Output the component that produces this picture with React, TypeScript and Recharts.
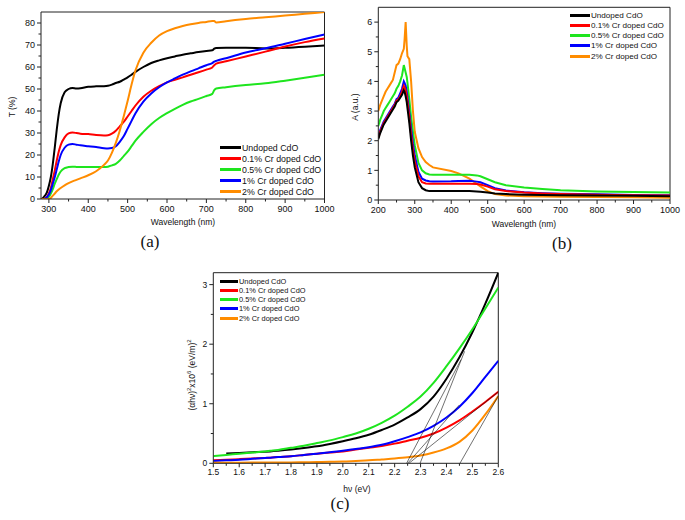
import React from 'react';
import { LineChart, Line, XAxis, YAxis, ReferenceLine, Legend } from 'recharts';

// ---------- series meta ----------
const SERIES_NAMES = ['Undoped CdO', '0.1% Cr doped CdO', '0.5% Cr doped CdO', '1% Cr doped CdO', '2% Cr doped CdO'];
const SERIES_KEYS = ['undoped', 'cr01', 'cr05', 'cr1', 'cr2'];
const SERIES_COLORS = ['#000000', '#ff0000', '#1ee51e', '#0000ff', '#ff8c00'];

// ---------- (a) transmittance ----------
const WL_A = [280, 285, 290, 295, 300, 305, 310, 315, 320, 325, 330, 340, 350, 360, 370, 380, 400, 420, 440, 450, 460, 470, 480, 490, 500, 510, 520, 540, 560, 580, 600, 620, 640, 660, 680, 700, 715, 720, 725, 750, 800, 850, 900, 950, 1000];
const T_UNDOPED = [0, 0.5, 1.5, 3, 6, 10, 16, 23.5, 31.5, 38.5, 43.5, 48.5, 50, 50.5, 50.2, 50.3, 51, 51.2, 51.3, 51.5, 52, 52.7, 53.3, 54.3, 55.3, 56.5, 57.8, 60, 61.8, 63, 64, 64.8, 65.6, 66.2, 66.8, 67.3, 67.6, 68.3, 68.6, 68.8, 68.8, 68.4, 68.7, 69.2, 69.8];
const T_CR01 = [0, 0, 0.3, 1, 2.5, 5, 9, 13, 17.5, 21.5, 24.5, 28, 29.8, 30.2, 30, 29.7, 29.5, 29.1, 28.9, 29, 29.7, 31, 33, 35, 37.5, 40, 42.5, 46.5, 49.2, 51.3, 53, 54.2, 55.3, 56.5, 57.6, 58.8, 59.8, 60.8, 61.5, 62.6, 64.8, 67, 69.3, 71.3, 73];
const T_CR05 = [0, 0, 0, 0.3, 1, 2.5, 4.5, 7, 9, 11, 12.5, 14, 14.5, 14.7, 14.6, 14.5, 14.5, 14.5, 14.5, 14.7, 15.3, 16, 17.5, 19.5, 21.5, 24, 26.5, 30.5, 34, 36.8, 39, 41, 42.8, 44.3, 45.5, 46.8, 47.8, 49.5, 50.2, 50.8, 51.8, 52.6, 53.8, 55.1, 56.5];
const T_CR1 = [0, 0, 0.2, 0.8, 2, 4, 7, 10, 13.5, 17, 20, 23.3, 24.7, 25, 24.7, 24.4, 24, 23.6, 23.1, 23, 23.2, 24, 26, 28.5, 32, 35.5, 39, 44.3, 48, 50.8, 53, 54.8, 56.5, 58, 59.4, 60.8, 61.8, 62.4, 62.8, 64, 66.6, 68.5, 70.6, 72.7, 74.8];
const T_CR2 = [0, 0, 0, 0, 0, 0.5, 1.5, 2.5, 3.5, 4.3, 5, 6.2, 7.2, 8, 8.7, 9.4, 10.8, 12.6, 15.5, 17.5, 21, 25.5, 31, 37.5, 44.5, 52, 58.5, 66.5, 71, 74.3, 76.3, 77.6, 78.6, 79.4, 80, 80.5, 80.9, 80.9, 80.2, 80.8, 81.8, 82.6, 83.4, 84.2, 85];
const A_X_TICKS = [300, 350, 400, 450, 500, 550, 600, 650, 700, 750, 800, 850, 900, 950, 1000];
const A_X_MAJOR = [300, 400, 500, 600, 700, 800, 900, 1000];
const A_Y_TICKS = [0, 5, 10, 15, 20, 25, 30, 35, 40, 45, 50, 55, 60, 65, 70, 75, 80];
const A_Y_MAJOR = [0, 10, 20, 30, 40, 50, 60, 70, 80];

// ---------- (b) absorbance ----------
const WL_B = [200, 205, 210, 215, 220, 225, 230, 235, 240, 245, 250, 255, 260, 265, 270, 272, 275, 278, 280, 285, 290, 295, 300, 310, 320, 330, 340, 350, 400, 420, 450, 470, 480, 500, 520, 550, 600, 650, 700, 800, 900, 1000];
const A_UNDOPED = [2.05, 2.25, 2.4, 2.55, 2.65, 2.75, 2.85, 2.95, 3.05, 3.15, 3.3, 3.35, 3.45, 3.55, 3.7, 3.65, 3.5, 3.3, 3.1, 2.6, 2.0, 1.5, 1.1, 0.6, 0.4, 0.33, 0.3, 0.3, 0.3, 0.3, 0.3, 0.29, 0.28, 0.25, 0.22, 0.2, 0.18, 0.17, 0.16, 0.15, 0.14, 0.13];
const A_CR01 = [2.1, 2.3, 2.45, 2.6, 2.7, 2.8, 2.9, 3.0, 3.1, 3.2, 3.35, 3.4, 3.5, 3.65, 3.85, 3.8, 3.7, 3.5, 3.3, 2.8, 2.2, 1.7, 1.3, 0.8, 0.6, 0.56, 0.55, 0.55, 0.55, 0.55, 0.55, 0.54, 0.52, 0.45, 0.36, 0.3, 0.25, 0.22, 0.2, 0.18, 0.16, 0.15];
const A_CR05 = [2.5, 2.7, 2.85, 3.0, 3.1, 3.2, 3.3, 3.4, 3.5, 3.6, 3.75, 3.85, 4.0, 4.2, 4.55, 4.45, 4.3, 4.15, 3.95, 3.4, 2.8, 2.3, 1.85, 1.25, 1.0, 0.9, 0.86, 0.85, 0.85, 0.85, 0.85, 0.83, 0.8, 0.7, 0.6, 0.5, 0.42, 0.37, 0.33, 0.29, 0.27, 0.25];
const A_CR1 = [2.15, 2.35, 2.5, 2.65, 2.75, 2.85, 2.95, 3.05, 3.15, 3.25, 3.4, 3.45, 3.6, 3.75, 4.0, 3.95, 3.85, 3.65, 3.45, 2.95, 2.4, 1.9, 1.5, 0.95, 0.72, 0.66, 0.63, 0.62, 0.63, 0.64, 0.65, 0.62, 0.6, 0.5, 0.4, 0.32, 0.26, 0.23, 0.21, 0.19, 0.17, 0.16];
const A_CR2 = [3.0, 3.2, 3.35, 3.5, 3.65, 3.75, 3.85, 3.95, 4.05, 4.3, 4.55, 4.6, 4.75, 4.95, 5.1, 5.4, 6.0, 5.2, 4.85, 4.75, 4.0, 3.0, 2.3, 1.75, 1.45, 1.28, 1.18, 1.1, 0.98, 0.9, 0.72, 0.55, 0.46, 0.3, 0.2, 0.15, 0.13, 0.12, 0.11, 0.1, 0.09, 0.08];
const B_X_TICKS = [200, 250, 300, 350, 400, 450, 500, 550, 600, 650, 700, 750, 800, 850, 900, 950, 1000];
const B_X_MAJOR = [200, 300, 400, 500, 600, 700, 800, 900, 1000];
const B_Y_TICKS = [0, 0.5, 1, 1.5, 2, 2.5, 3, 3.5, 4, 4.5, 5, 5.5, 6];
const B_Y_MAJOR = [0, 1, 2, 3, 4, 5, 6];

// ---------- (c) Tauc plot ----------
const EV_C = [1.5, 1.55, 1.6, 1.65, 1.7, 1.72, 1.75, 1.8, 1.85, 1.9, 1.95, 2.0, 2.05, 2.1, 2.15, 2.2, 2.25, 2.3, 2.35, 2.4, 2.45, 2.5, 2.55, 2.6];
const C_UNDOPED = [null, 0.165, 0.175, 0.185, 0.195, 0.2, 0.21, 0.23, 0.255, 0.285, 0.325, 0.37, 0.42, 0.48, 0.56, 0.65, 0.77, 0.91, 1.12, 1.42, 1.78, 2.2, 2.68, 3.2];
const C_CR01 = [0.05, 0.06, 0.07, 0.08, 0.09, 0.095, 0.105, 0.12, 0.14, 0.16, 0.18, 0.2, 0.23, 0.26, 0.29, 0.33, 0.38, 0.43, 0.5, 0.6, 0.72, 0.87, 1.03, 1.2];
const C_CR05 = [0.12, 0.14, 0.16, 0.18, 0.2, 0.21, 0.225, 0.26, 0.295, 0.34, 0.385, 0.44, 0.5, 0.58, 0.68, 0.8, 0.95, 1.12, 1.35, 1.63, 1.93, 2.25, 2.6, 2.95];
const C_CR1 = [0.04, 0.05, 0.06, 0.075, 0.09, 0.095, 0.105, 0.12, 0.14, 0.16, 0.185, 0.21, 0.24, 0.27, 0.31, 0.37, 0.44, 0.52, 0.63, 0.77, 0.95, 1.18, 1.45, 1.72];
const C_CR2 = [0.01, 0.01, 0.01, 0.012, 0.013, 0.014, 0.015, 0.015, 0.018, 0.02, 0.025, 0.03, 0.04, 0.05, 0.065, 0.08, 0.1, 0.13, 0.18, 0.25, 0.36, 0.55, 0.82, 1.13];
const TANGENT_X0 = [2.246, 2.298, 2.25, 2.255, 2.452];
const TANGENT_X1 = [2.456, 2.47, 2.45, 2.6, 2.6];
const TANGENT_Y1 = [1.74, 1.88, 0.98, 1.2, 1.13];
const C_X_TICKS = [1.5, 1.55, 1.6, 1.65, 1.7, 1.75, 1.8, 1.85, 1.9, 1.95, 2.0, 2.05, 2.1, 2.15, 2.2, 2.25, 2.3, 2.35, 2.4, 2.45, 2.5, 2.55, 2.6];
const C_X_MAJOR = [1.5, 1.6, 1.7, 1.8, 1.9, 2.0, 2.1, 2.2, 2.3, 2.4, 2.5, 2.6];
const C_Y_TICKS = [0, 0.5, 1, 1.5, 2, 2.5, 3];
const C_Y_MAJOR = [0, 1, 2, 3];

// ---------- tables ----------
const buildTable = (xs: number[], xKey: string, cols: (number | null)[][]) =>
  xs.map((x, i) => {
    const row: any = { [xKey]: x };
    SERIES_KEYS.forEach((k, j) => { row[k] = cols[j][i]; });
    return row;
  });
const TABLE_A = buildTable(WL_A, 'w', [T_UNDOPED, T_CR01, T_CR05, T_CR1, T_CR2]);
const TABLE_B = buildTable(WL_B, 'w', [A_UNDOPED, A_CR01, A_CR05, A_CR1, A_CR2]);
const TABLE_C = buildTable(EV_C, 'e', [C_UNDOPED, C_CR01, C_CR05, C_CR1, C_CR2]);

const SANS = '"Liberation Sans", Arial, sans-serif';
const SERIF = '"Liberation Serif", "Times New Roman", serif';
const AX = '#222';

const isIn = (arr: number[], v: number) => arr.some((m) => Math.abs(m - v) < 1e-6);

// tickSize=0 and tickMargin=0 -> (x, y) is the point on the axis line
const xTick = (majors: number[], fs: number, dy: number, fmt: (v: number) => string) => (props: any) => {
  const { x, y, payload } = props;
  const v = payload.value;
  const major = isIn(majors, v);
  return (
    <g>
      <line x1={x} x2={x} y1={y} y2={y + (major ? 4 : 2.5)} stroke={AX} strokeWidth={1} />
      {major && (
        <text x={x} y={y + dy} textAnchor="middle" fontSize={fs} fontFamily={SANS} fill="#111">{fmt(v)}</text>
      )}
    </g>
  );
};

const yTick = (majors: number[], fs: number, dx: number, fmt: (v: number) => string) => (props: any) => {
  const { x, y, payload } = props;
  const v = payload.value;
  const major = isIn(majors, v);
  return (
    <g>
      <line x1={x} x2={x - (major ? 4 : 2.5)} y1={y} y2={y} stroke={AX} strokeWidth={1} />
      {major && (
        <text x={x - dx} y={y + fs * 0.36} textAnchor="end" fontSize={fs} fontFamily={SANS} fill="#111">{fmt(v)}</text>
      )}
    </g>
  );
};

const legendContent = (fs: number, rowH: number, lineW: number) => () => (
  <div style={{ fontFamily: SANS, fontSize: fs, color: '#111' }}>
    {SERIES_NAMES.map((n, i) => (
      <div key={n} style={{ display: 'flex', alignItems: 'center', height: rowH, whiteSpace: 'nowrap' }}>
        <span style={{ display: 'inline-block', width: lineW, height: 3, background: SERIES_COLORS[i], marginRight: 1 }} />
        <span>{n}</span>
      </div>
    ))}
  </div>
);

const renderLines = (order: number[], type: any, width: number) =>
  order.map((i) => (
    <Line
      key={SERIES_KEYS[i]}
      dataKey={SERIES_KEYS[i]}
      name={SERIES_NAMES[i]}
      stroke={SERIES_COLORS[i]}
      strokeWidth={width}
      dot={false}
      activeDot={false}
      type={type}
      connectNulls
      isAnimationActive={false}
    />
  ));

export default function App() {
  return (
    <div style={{ position: 'absolute', left: 0, top: 0, width: 685, height: 520, background: '#fff', overflow: 'hidden' }}>
      {/* (a) */}
      <div style={{ position: 'absolute', left: 0, top: 0 }}>
        <LineChart width={340} height={250} data={TABLE_A} margin={{ top: 12, left: 40, right: 15.5, bottom: 50 }}>
          <XAxis dataKey="w" type="number" domain={[280, 1000]} allowDataOverflow ticks={A_X_TICKS} interval={0} height={1}
            tickSize={0} tickMargin={0} tickLine={false} axisLine={{ stroke: AX }} tick={xTick(A_X_MAJOR, 9, 13, (v) => String(v))} />
          <YAxis type="number" domain={[0, 85]} allowDataOverflow ticks={A_Y_TICKS} interval={0} width={1}
            tickSize={0} tickMargin={0} tickLine={false} axisLine={{ stroke: AX }} tick={yTick(A_Y_MAJOR, 9, 6, (v) => String(v))} />
          <ReferenceLine y={85} stroke={AX} ifOverflow="visible" />
          <ReferenceLine x={1000} stroke={AX} ifOverflow="visible" />
          {renderLines([0, 1, 2, 3, 4], 'monotone', 2)}
          <Legend layout="vertical" align="center" verticalAlign="middle"
            wrapperStyle={{ left: 220, top: 142, width: 'auto', height: 'auto', margin: 0, padding: 0 }}
            content={legendContent(8.8, 11, 21)} />
        </LineChart>
      </div>

      {/* (b) */}
      <div style={{ position: 'absolute', left: 340, top: 0 }}>
        <LineChart width={345} height={250} data={TABLE_B} margin={{ top: 7.3, left: 37.3, right: 15, bottom: 49 }}>
          <XAxis dataKey="w" type="number" domain={[200, 1000]} allowDataOverflow ticks={B_X_TICKS} interval={0} height={1}
            tickSize={0} tickMargin={0} tickLine={false} axisLine={{ stroke: AX }} tick={xTick(B_X_MAJOR, 9, 13, (v) => String(v))} />
          <YAxis type="number" domain={[0, 6.5]} allowDataOverflow ticks={B_Y_TICKS} interval={0} width={1}
            tickSize={0} tickMargin={0} tickLine={false} axisLine={{ stroke: AX }} tick={yTick(B_Y_MAJOR, 9, 6, (v) => String(v))} />
          <ReferenceLine y={6.5} stroke={AX} ifOverflow="visible" />
          <ReferenceLine x={1000} stroke={AX} ifOverflow="visible" />
          {renderLines([4, 2, 3, 1, 0], 'linear', 2)}
          <Legend layout="vertical" align="center" verticalAlign="middle"
            wrapperStyle={{ left: 230, top: 10, width: 'auto', height: 'auto', margin: 0, padding: 0 }}
            content={legendContent(8.1, 10.25, 20)} />
        </LineChart>
      </div>

      {/* (c) */}
      <div style={{ position: 'absolute', left: 150, top: 255 }}>
        <LineChart width={370} height={245} data={TABLE_C} margin={{ top: 17.7, left: 62.3, right: 21.7, bottom: 35.7 }}>
          <XAxis dataKey="e" type="number" domain={[1.5, 2.6]} allowDataOverflow ticks={C_X_TICKS} interval={0} height={1}
            tickSize={0} tickMargin={0} tickLine={false} axisLine={{ stroke: AX }} tick={xTick(C_X_MAJOR, 8.5, 11.5, (v) => v.toFixed(1))} />
          <YAxis type="number" domain={[0, 3.2]} allowDataOverflow ticks={C_Y_TICKS} interval={0} width={1}
            tickSize={0} tickMargin={0} tickLine={false} axisLine={{ stroke: AX }} tick={yTick(C_Y_MAJOR, 8.5, 6, (v) => String(v))} />
          <ReferenceLine y={3.2} stroke={AX} ifOverflow="visible" />
          <ReferenceLine x={2.6} stroke={AX} ifOverflow="visible" />
          {renderLines([0, 1, 2, 3, 4], 'monotone', 2)}
          {TANGENT_X0.map((x0, i) => (
            <ReferenceLine key={'t' + i} stroke="#111" strokeWidth={0.6}
              segment={[{ x: x0, y: 0 }, { x: TANGENT_X1[i], y: TANGENT_Y1[i] }]} />
          ))}
          <Legend layout="vertical" align="center" verticalAlign="middle"
            wrapperStyle={{ left: 70, top: 22, width: 'auto', height: 'auto', margin: 0, padding: 0 }}
            content={legendContent(7.4, 9.15, 18)} />
        </LineChart>
      </div>

      {/* titles and panel labels */}
      <svg width={685} height={520} style={{ position: 'absolute', left: 0, top: 0, pointerEvents: 'none' }}>
        <text x={12} y={107} transform="rotate(-90 12 107)" textAnchor="middle" dominantBaseline="central" fontSize={8.5} fontFamily={SANS} fill="#111">T (%)</text>
        <text x={183} y={225} textAnchor="middle" fontSize={8.5} fontFamily={SANS} fill="#111">Wavelength (nm)</text>
        <text x={150} y={247} textAnchor="middle" fontSize={17} fontFamily={SERIF} fill="#111">(a)</text>

        <text x={355} y={107} transform="rotate(-90 355 107)" textAnchor="middle" dominantBaseline="central" fontSize={8.5} fontFamily={SANS} fill="#111">A (a.u.)</text>
        <text x={524} y={227} textAnchor="middle" fontSize={8.5} fontFamily={SANS} fill="#111">Wavelength (nm)</text>
        <text x={562} y={249} textAnchor="middle" fontSize={17} fontFamily={SERIF} fill="#111">(b)</text>

        <text x={192} y={375} transform="rotate(-90 192 375)" textAnchor="middle" dominantBaseline="central" fontSize={8.5} fontFamily={SANS} fill="#111">
          (αhν)<tspan dy={-3} fontSize={6}>2</tspan><tspan dy={3}>x10</tspan><tspan dy={-3} fontSize={6}>6</tspan><tspan dy={3}> (eV/m)</tspan><tspan dy={-3} fontSize={6}>2</tspan>
        </text>
        <text x={357} y={492} textAnchor="middle" fontSize={8.5} fontFamily={SANS} fill="#111">hν (eV)</text>
        <text x={340} y={509} textAnchor="middle" fontSize={17} fontFamily={SERIF} fill="#111">(c)</text>
      </svg>
    </div>
  );
}
